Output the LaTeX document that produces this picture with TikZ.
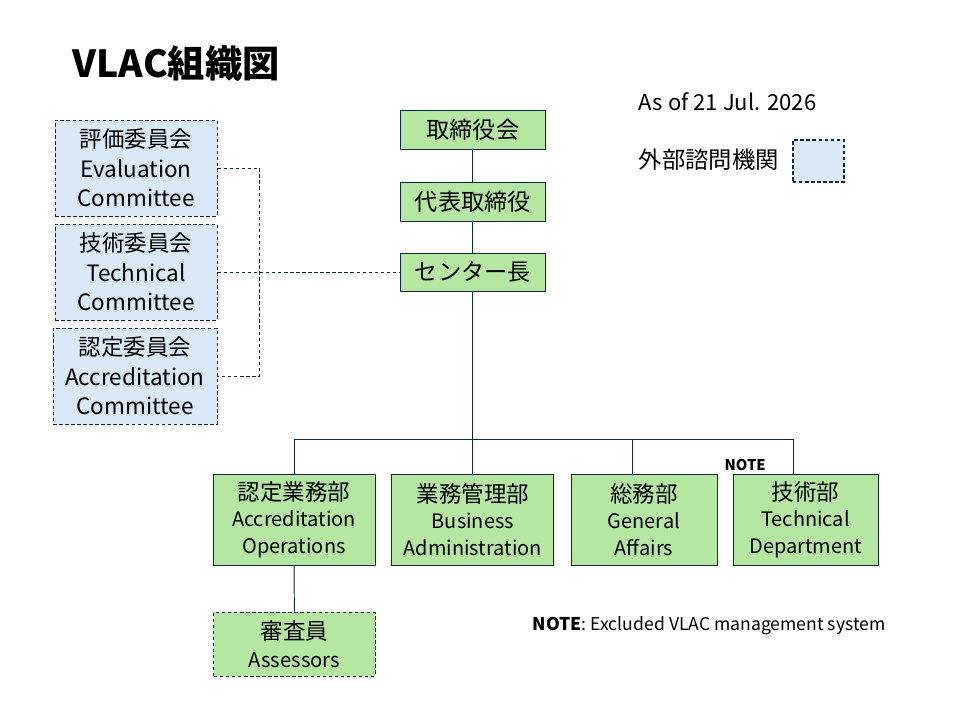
\documentclass[tikz,border=0pt]{standalone}
\usepackage{fontspec}
\setmainfont{Noto Sans CJK JP}
\definecolor{orggreen}{HTML}{B5E6A2}
\definecolor{advblue}{HTML}{DAE9F7}
\definecolor{orgline}{HTML}{0E2841}
\newcommand{\jpline}[1]{{\fontsize{16}{19}\selectfont #1}}

\begin{document}
\begin{tikzpicture}[
	unit/.style={draw=orgline, line width=0.7pt, fill=orggreen, align=center, inner sep=0pt},
	topunit/.style={unit, minimum width=3.625cm, minimum height=0.975cm, font=\fontsize{16.5}{19}\selectfont},
	dept/.style={unit, minimum height=2.275cm, font=\fontsize{14.2}{19}\selectfont},
	dashline/.style={dash pattern=on 2.5pt off 1.8pt},
	advisory/.style={draw=orgline, line width=0.7pt, dashline, fill=advblue, align=center, inner sep=0pt,
		minimum width=4.05cm, minimum height=2.4cm, font=\fontsize{16}{21}\selectfont},
	link/.style={draw=orgline, line width=0.7pt}
]
	\useasboundingbox (0,0) rectangle (24,-18);

	% title and legend
	\node[anchor=west, font=\fontsize{26.5}{30}\selectfont\bfseries] (title) at (1.7,-1.575) {VLAC組織図};
	\node[anchor=west, font=\fontsize{15.7}{18}\selectfont] (asof) at (15.85,-2.55) {As of 21 Jul. 2026};
	\node[anchor=west, font=\fontsize{16.6}{19}\selectfont] (legtext) at (15.85,-4.0) {外部諮問機関};
	\node[draw=orgline, line width=1.4pt, dashline, fill=advblue, minimum width=1.275cm, minimum height=1.05cm] (legbox) at (20.46,-4.025) {};

	% board line
	\node[topunit] (board) at (11.82,-3.24) {取締役会};
	\node[topunit] (ceo) at (11.82,-5.04) {代表取締役};
	\node[topunit, minimum height=0.95cm] (director) at (11.82,-6.8) {センター長};

	% advisory committees
	\node[advisory] (evalc) at (3.4,-4.2) {評価委員会\\Evaluation\\Committee};
	\node[advisory] (techc) at (3.4,-6.8) {技術委員会\\Technical\\Committee};
	\node[advisory, minimum width=4.1cm] (accc) at (3.375,-9.4) {認定委員会\\Accreditation\\Committee};

	% departments
	\node[dept, minimum width=4.05cm] (accops) at (7.35,-12.99) {\jpline{認定業務部}\\Accreditation\\Operations};
	\node[dept, minimum width=4.05cm] (bizadmin) at (11.82,-12.99) {\jpline{業務管理部}\\Business\\Administration};
	\node[dept, minimum width=3.65cm] (general) at (16.1,-12.99) {\jpline{総務部}\\General\\Affairs};
	\node[dept, minimum width=3.625cm] (techdept) at (20.14,-12.99) {\jpline{技術部}\\Technical\\Department};
	\node[unit, dashline, minimum width=4.03cm, minimum height=1.6cm, font=\fontsize{14.4}{19.5}\selectfont] (assessors) at (7.36,-16.1) {\jpline{審査員}\\Assessors};

	\node[font=\fontsize{10.5}{12}\selectfont\bfseries] (notemark) at (18.63,-11.63) {NOTE};
	\node[anchor=west, font=\fontsize{12.5}{15}\selectfont] (note) at (13.2,-15.65) {\textbf{NOTE}: Excluded VLAC management system};

	\coordinate (bus) at (11.82,-10.975);
	\coordinate (gendrop) at (15.8,-10.975);
	\coordinate (techdrop) at (19.83,-10.975);

	% connectors
	\draw[link] (board) -- (ceo);
	\draw[link] (ceo) -- (director);
	\draw[link] (director.south) -- (bizadmin.north);
	\draw[link] (accops.north) |- (bus) -- (techdrop) -- (techdrop |- techdept.north);
	\draw[link] (gendrop) -- (gendrop |- general.north);
	\draw[link] (accops) -- (assessors);
	\draw[link, dashline] (evalc.east) -- ++(1.05,0) |- (accc.east);
	\draw[link, dashline] (techc.east) -- (director.west);
\end{tikzpicture}
\end{document}
